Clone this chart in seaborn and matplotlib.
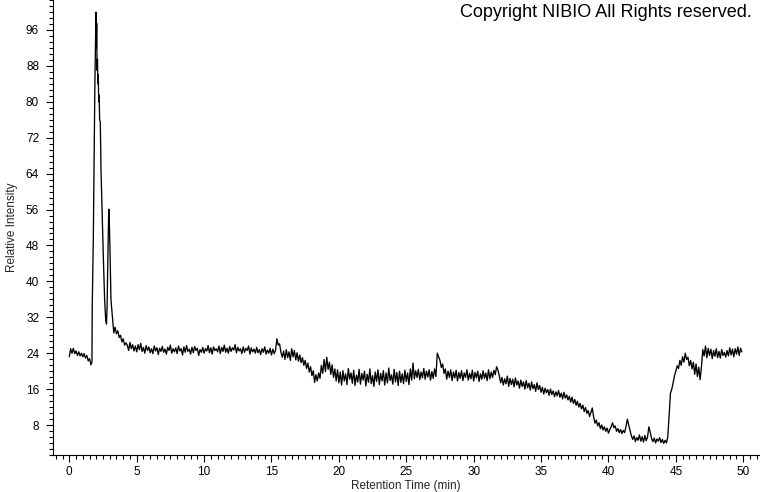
import numpy as np
import pandas as pd
import matplotlib
matplotlib.use("Agg")
import matplotlib.pyplot as plt
from matplotlib.ticker import MultipleLocator
import seaborn as sns

# ---- data ----
# initial baseline, t = 0.0 .. 1.6 min (0.1 min grid)
start_intensity = [23.2, 25.0, 24.0, 25.1, 23.9, 24.5, 23.5, 24.3, 23.4, 24.0,
                   23.2, 23.9, 22.9, 23.5, 22.3, 22.8, 21.4]

# solvent-front peaks (irregular sampling)
peak_time = [1.68, 1.70, 1.78, 1.85, 1.90, 1.98, 2.01, 2.03, 2.06, 2.09,
             2.12, 2.15, 2.18, 2.21, 2.25, 2.30, 2.35, 2.45, 2.53, 2.62,
             2.70, 2.76, 2.80, 2.85, 2.90, 2.93, 2.96, 3.02, 3.09, 3.22,
             3.30, 3.39, 3.50, 3.60, 3.70, 3.80, 3.90, 4.00, 4.10, 4.20]
peak_intensity = [22.0, 34.3, 49.2, 70.8, 84.9, 100.0, 92.0, 97.5, 87.0, 89.5,
                  84.0, 86.0, 80.0, 81.5, 76.0, 75.5, 65.0, 53.7, 44.8, 35.9,
                  31.4, 30.5, 34.0, 43.2, 52.0, 56.1, 54.0, 47.0, 35.9, 31.4,
                  28.5, 29.8, 28.3, 29.0, 27.5, 28.0, 26.5, 27.2, 25.8, 26.3]

# remaining trace, t = 4.3 .. 49.9 min (0.1 min grid)
rest_intensity = [
    25.8, 24.6, 26.4, 25.0, 25.9, 24.5,
    25.6, 24.3, 25.9, 24.8, 26.2, 24.4, 25.3, 24.0, 25.7, 24.6,
    25.4, 24.1, 25.0, 23.9, 25.6, 24.5, 25.2, 23.7, 25.1, 24.4,
    25.5, 24.2, 24.9, 23.8, 25.3, 24.6, 25.8, 24.0, 25.0, 24.3,
    25.2, 23.9, 25.6, 24.5, 25.0, 23.6, 25.4, 24.2, 25.7, 24.4,
    24.9, 23.8, 25.3, 24.1, 25.5, 24.6, 25.1, 23.5, 24.8, 24.2,
    25.3, 24.0, 25.0, 24.5, 25.7, 24.1, 25.2, 23.8, 25.4, 24.6,
    25.0, 24.3, 25.6, 23.9, 25.3, 24.4, 25.8, 24.2, 25.1, 24.0,
    25.5, 24.4, 25.2, 24.7, 25.9, 24.1, 25.3, 24.5, 25.0, 23.9,
    25.4, 24.2, 25.1, 24.6, 25.6, 23.8, 25.2, 24.3, 24.9, 24.0,
    25.3, 24.1, 24.8, 23.7, 25.0, 24.2, 25.4, 23.8, 24.7, 24.0,
    25.1, 23.6, 24.9, 23.9, 24.6, 27.2, 25.8, 26.1, 24.2, 23.1,
    24.5, 22.6, 24.8, 23.0, 24.3, 22.4, 25.0, 23.2, 24.6, 22.5,
    24.1, 22.2, 23.6, 21.9, 23.0, 21.3, 22.4, 20.6, 21.8, 19.8,
    21.0, 19.0, 20.1, 17.5, 19.2, 17.8, 19.6, 18.4, 21.3, 19.5,
    22.6, 19.9, 23.1, 20.4, 22.0, 19.3, 21.4, 18.6, 20.5, 17.8,
    20.3, 17.4, 19.8, 16.9, 20.1, 17.8, 19.4, 17.0, 20.6, 18.2,
    19.6, 17.3, 20.2, 16.8, 19.1, 17.6, 20.4, 17.1, 19.5, 18.0,
    20.0, 16.7, 19.3, 17.5, 20.5, 17.2, 19.0, 16.6, 19.8, 17.7,
    20.3, 17.0, 19.5, 17.8, 20.1, 16.9, 19.6, 17.4, 20.7, 17.9,
    19.2, 17.1, 20.4, 17.6, 19.7, 16.8, 20.0, 17.5, 19.4, 17.2,
    20.2, 17.7, 19.6, 17.0, 20.5, 18.0, 21.8, 18.3, 20.1, 18.6,
    20.4, 18.1, 19.8, 18.5, 20.6, 18.2, 20.0, 18.7, 20.3, 18.0,
    19.9, 18.4, 20.5, 18.8, 24.0, 23.2, 22.4, 20.8, 21.6, 19.5,
    20.5, 18.2, 20.0, 18.6, 20.3, 17.9, 19.8, 18.5, 20.2, 17.8,
    19.7, 18.4, 20.1, 17.9, 19.6, 18.6, 20.3, 18.0, 19.5, 18.3,
    20.2, 17.8, 19.7, 18.5, 20.0, 17.7, 19.4, 18.2, 20.1, 18.4,
    19.6, 17.9, 20.3, 18.3, 19.8, 18.6, 20.2, 19.2, 21.0, 20.2,
    19.0, 17.4, 18.6, 16.9, 18.3, 17.2, 18.9, 16.6, 18.4, 17.0,
    18.2, 16.5, 18.5, 16.9, 17.8, 16.2, 18.0, 16.6, 17.6, 16.0,
    17.9, 16.3, 17.3, 15.8, 17.6, 16.1, 17.0, 15.5, 17.4, 15.9,
    16.8, 15.3, 16.4, 14.9, 16.2, 15.2, 15.9, 14.6, 16.0, 14.8,
    15.6, 14.3, 15.4, 14.5, 15.7, 14.2, 15.1, 13.8, 15.3, 14.0,
    14.7, 13.6, 14.4, 13.1, 14.2, 12.8, 13.7, 12.4, 13.3, 12.0,
    12.8, 11.6, 12.4, 11.0, 11.9, 10.6, 11.2, 9.9, 10.8, 11.8,
    9.8, 8.4, 9.1, 7.8, 8.5, 7.2, 8.0, 6.9, 7.6, 6.6,
    7.3, 6.2, 7.0, 7.6, 8.5, 7.4, 7.8, 6.6, 7.2, 6.3,
    7.0, 6.1, 6.8, 6.3, 7.6, 9.3, 8.0, 6.8, 5.6, 4.8,
    5.6, 4.3, 5.2, 4.6, 5.8, 4.4, 5.4, 4.2, 5.7, 4.5,
    5.3, 7.6, 6.4, 5.0, 4.3, 5.1, 4.0, 4.9, 4.4, 5.2,
    4.1, 4.8, 3.9, 4.6, 4.0, 5.3, 10.0, 15.1, 16.0, 17.4,
    19.0, 20.0, 21.2, 20.6, 22.4, 21.3, 23.2, 22.0, 24.0, 22.6,
    23.1, 21.2, 22.4, 20.5, 22.0, 19.3, 21.6, 18.8, 20.9, 18.1,
    21.0, 24.8, 23.4, 25.6, 23.0, 25.1, 23.5, 24.9, 22.8, 24.6,
    23.3, 25.0, 23.0, 24.4, 22.9, 24.8, 23.5, 24.2, 23.1, 24.6,
    23.4, 25.2, 23.6, 24.9, 23.2, 25.0, 23.8, 25.4, 23.5, 25.1,
    24.3,
]

x_major_step = 5
x_minor_step = 0.5
y_major_step = 8
title_text = "Copyright NIBIO All Rights reserved."
x_label = "Retention Time (min)"
y_label = "Relative Intensity"

# ---- assemble ----
start_time = np.round(np.arange(len(start_intensity)) * 0.1, 2)
rest_time = np.round(4.3 + np.arange(len(rest_intensity)) * 0.1, 2)
df = pd.DataFrame({
    "time": np.concatenate([start_time, peak_time, rest_time]),
    "intensity": np.concatenate([start_intensity, peak_intensity, rest_intensity]),
})

sns.set_style("ticks")
plt.rcParams["font.family"] = ["Liberation Sans", "DejaVu Sans"]

fig = plt.figure(figsize=(7.6, 4.92), dpi=100)
ax = fig.add_axes([53 / 760, 37 / 492, 706 / 760, 455 / 492])

sns.lineplot(data=df, x="time", y="intensity", ax=ax, color="black",
             linewidth=0.95, estimator=None, sort=False)

ax.set_xlim(-1.21, 51.17)
ax.set_ylim(1.32, 102.68)
ax.xaxis.set_major_locator(MultipleLocator(x_major_step))
ax.xaxis.set_minor_locator(MultipleLocator(x_minor_step))
ax.yaxis.set_major_locator(MultipleLocator(y_major_step))
ax.yaxis.set_minor_locator(MultipleLocator(y_major_step / 6))
ax.set_xticks([t for t in range(0, 51, 5)])

ax.tick_params(axis="y", which="major", direction="out", length=5,
               width=0.8, labelsize=8.5, colors="black", pad=5)
ax.tick_params(axis="x", which="major", direction="out", length=5,
               width=0.8, labelsize=8.5, colors="black", pad=3)
ax.tick_params(axis="both", which="minor", direction="out", length=3,
               width=0.8, colors="black")

for side in ("top", "right"):
    ax.spines[side].set_visible(False)
for side in ("left", "bottom"):
    ax.spines[side].set_color("black")
    ax.spines[side].set_linewidth(0.8)

ax.set_xlabel(x_label, fontsize=8.5, labelpad=1)
ax.set_ylabel(y_label, fontsize=8.5, labelpad=6)

fig.text(752 / 760, 1 - 4 / 492, title_text, ha="right", va="top",
         fontsize=13, color="black")

fig.savefig("out.png", dpi=100, facecolor="white")
